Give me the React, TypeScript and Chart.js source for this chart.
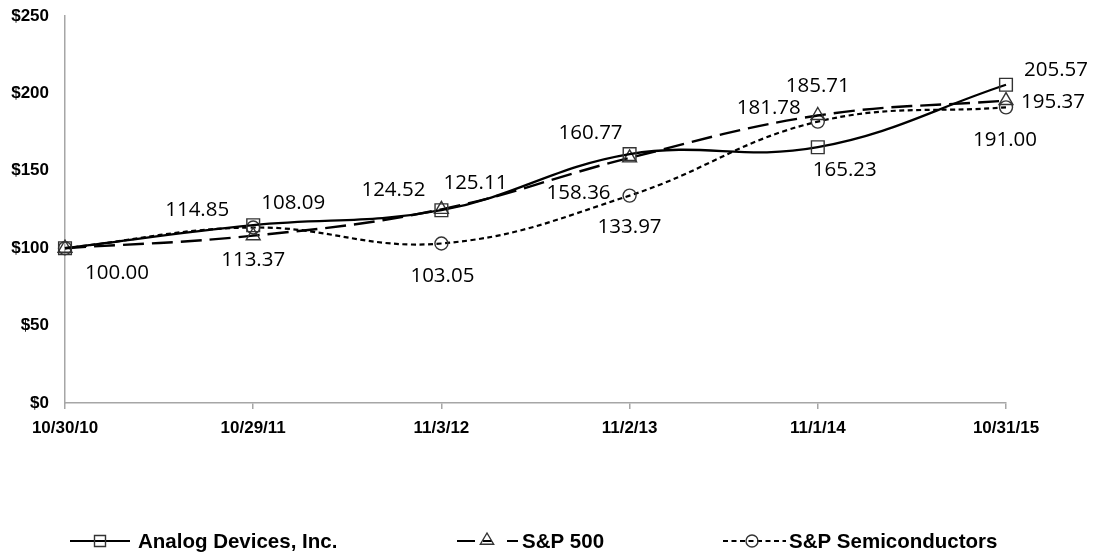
import React, { useEffect, useRef } from 'react';
import { Chart, registerables } from 'chart.js';

Chart.register(...registerables);

const categories = ['10/30/10', '10/29/11', '11/3/12', '11/2/13', '11/1/14', '10/31/15'];
const adiValues = [100, 114.85, 124.52, 160.77, 165.23, 205.57];
const sp500Values = [100, 108.09, 125.11, 158.36, 185.71, 195.37];
const semiValues = [100, 113.37, 103.05, 133.97, 181.78, 191.0];
const seriesNames = ['Analog Devices, Inc.', 'S&P 500', 'S&P Semiconductors'];
const yMin = 0;
const yMax = 250;
const yStep = 50;

// label placement (dx, dy from the point), null = no label
const labelOffsets: (number[] | null)[][] = [
  [[52, 25], [-56, -15], [-48, -20], [-39, -21], [27, 23], [50, -15]],
  [null, [40, -33], [34, -26], [-51, 35], [0, -29], [47, 2]],
  [null, [0, 33], [1, 33], [0, 32], [-49, -13], [-1, 33]],
];

const GRAY = '#a6a6a6';
const MARK = '#333333';

function drawMarker(ctx: CanvasRenderingContext2D, style: string, x: number, y: number, r: number) {
  ctx.save();
  ctx.strokeStyle = MARK;
  ctx.lineWidth = 1.4;
  ctx.setLineDash([]);
  ctx.beginPath();
  if (style === 'rect') {
    ctx.rect(x - r, y - r, 2 * r, 2 * r);
  } else if (style === 'triangle') {
    ctx.moveTo(x, y - r);
    ctx.lineTo(x + r * 0.95, y + r * 0.6);
    ctx.lineTo(x - r * 0.95, y + r * 0.6);
    ctx.closePath();
  } else {
    ctx.arc(x, y, r, 0, Math.PI * 2);
  }
  ctx.stroke();
  ctx.restore();
}

const dataLabelPlugin = {
  id: 'dataLabels',
  afterDatasetsDraw(chart: any) {
    const ctx = chart.ctx as CanvasRenderingContext2D;
    ctx.save();
    ctx.font = '20.5px "Open Sans"';
    ctx.fillStyle = '#000';
    ctx.textAlign = 'center';
    ctx.textBaseline = 'middle';
    chart.data.datasets.forEach((ds: any, i: number) => {
      const meta = chart.getDatasetMeta(i);
      meta.data.forEach((pt: any, j: number) => {
        const off = labelOffsets[i][j];
        if (!off) return;
        ctx.fillText((ds.data[j] as number).toFixed(2), pt.x + off[0], pt.y + off[1]);
      });
    });
    ctx.restore();
  },
};

const legendPlugin = {
  id: 'customLegend',
  afterDraw(chart: any) {
    const ctx = chart.ctx as CanvasRenderingContext2D;
    const y = 541;
    ctx.save();
    ctx.strokeStyle = '#000';
    ctx.lineWidth = 2.2;
    // ADI
    ctx.setLineDash([]);
    ctx.beginPath();
    ctx.moveTo(70, y);
    ctx.lineTo(130, y);
    ctx.stroke();
    drawMarker(ctx, 'rect', 100, y, 5.5);
    // S&P 500
    ctx.beginPath();
    [[457, 475], [483, 492], [507, 518]].forEach(([a, b]) => {
      ctx.moveTo(a, y);
      ctx.lineTo(b, y);
    });
    ctx.stroke();
    drawMarker(ctx, 'triangle', 487, y - 1, 7);
    // Semis
    ctx.setLineDash([5, 3.5]);
    ctx.beginPath();
    ctx.moveTo(723, y);
    ctx.lineTo(786, y);
    ctx.stroke();
    ctx.setLineDash([]);
    drawMarker(ctx, 'circle', 752, y, 6);
    // texts
    ctx.fillStyle = '#000';
    ctx.font = 'bold 20.5px "Liberation Sans"';
    ctx.textAlign = 'left';
    ctx.textBaseline = 'middle';
    ctx.fillText(seriesNames[0], 138, y + 1);
    ctx.fillText(seriesNames[1], 522, y + 1);
    ctx.fillText(seriesNames[2], 789, y + 1);
    ctx.restore();
  },
};

export default function App() {
  const ref = useRef<HTMLCanvasElement | null>(null);
  useEffect(() => {
    document.body.style.margin = '0';
    if (!ref.current) return;
    const chart = new Chart(ref.current, {
      type: 'line',
      data: {
        labels: categories,
        datasets: [
          {
            label: seriesNames[0],
            data: adiValues,
            borderColor: '#000',
            borderWidth: 2.3,
            tension: 0.4,
            pointStyle: 'rect',
            pointRadius: 9,
            pointBackgroundColor: 'rgba(0,0,0,0)',
            pointBorderColor: MARK,
            pointBorderWidth: 1.4,
          },
          {
            label: seriesNames[1],
            data: sp500Values,
            borderColor: '#000',
            borderWidth: 2.4,
            borderDash: [21, 8],
            tension: 0.4,
            pointStyle: 'triangle',
            pointRadius: 8,
            pointBackgroundColor: 'rgba(0,0,0,0)',
            pointBorderColor: MARK,
            pointBorderWidth: 1.4,
          },
          {
            label: seriesNames[2],
            data: semiValues,
            borderColor: '#000',
            borderWidth: 2.2,
            borderDash: [5, 3.5],
            tension: 0.4,
            pointStyle: 'circle',
            pointRadius: 6.5,
            pointBackgroundColor: 'rgba(0,0,0,0)',
            pointBorderColor: MARK,
            pointBorderWidth: 1.4,
          },
        ],
      },
      options: {
        responsive: false,
        animation: false,
        layout: { padding: { left: 0, right: 87, top: 16, bottom: 124 } },
        plugins: {
          legend: { display: false },
          tooltip: { enabled: false },
        },
        scales: {
          x: {
            offset: false,
            afterFit: (s: any) => {
              s.height = 30;
              s.paddingLeft = 0;
              s.paddingRight = 0;
            },
            grid: { display: true, drawOnChartArea: false, drawTicks: true, tickLength: 6, color: GRAY, lineWidth: 1.5 },
            border: { display: true, color: GRAY, width: 1.5 },
            ticks: {
              color: '#000',
              font: { family: '"Liberation Sans"', weight: 'bold', size: 17 },
              padding: 9,
              maxRotation: 0,
              autoSkip: false,
            },
          },
          y: {
            min: yMin,
            max: yMax,
            afterFit: (s: any) => {
              s.width = 65;
              s.paddingTop = 0;
              s.paddingBottom = 0;
            },
            grid: { display: true, drawOnChartArea: false, drawTicks: false },
            border: { display: true, color: GRAY, width: 1.5 },
            ticks: {
              stepSize: yStep,
              color: '#000',
              font: { family: '"Liberation Sans"', weight: 'bold', size: 17 },
              padding: 16,
              callback: (v: any) => '$' + v,
            },
          },
        },
      },
      plugins: [dataLabelPlugin, legendPlugin],
    });
    return () => chart.destroy();
  }, []);
  return (
    <div style={{ position: 'absolute', left: 0, top: 0, width: 1093, height: 557, background: '#fff' }}>
      <canvas ref={ref} width={1093} height={557} />
    </div>
  );
}
